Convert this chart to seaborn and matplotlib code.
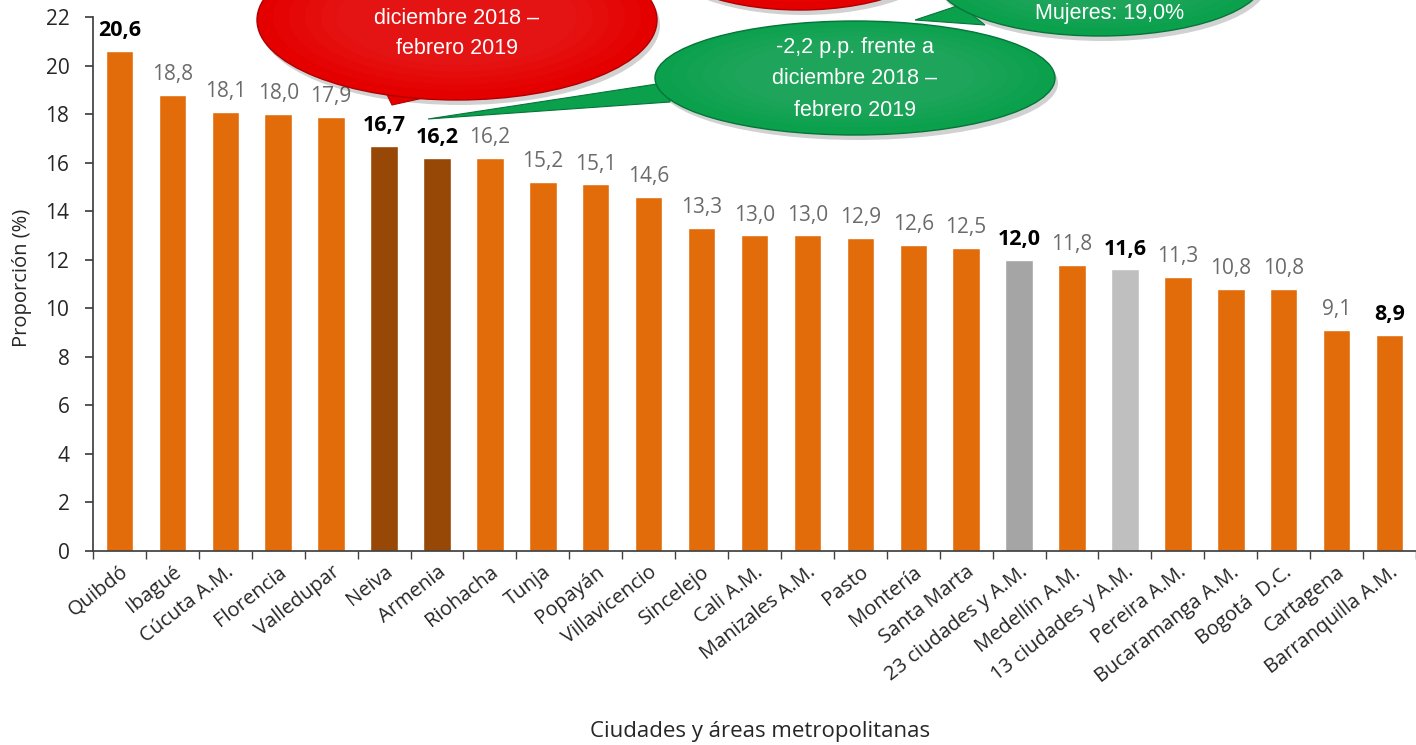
import numpy as np
import pandas as pd
import matplotlib
matplotlib.use('Agg')
import matplotlib.pyplot as plt
from matplotlib.patches import Ellipse, Polygon
import seaborn as sns

sns.set_theme(style='ticks')
plt.rcParams['font.family'] = ['Open Sans', 'DejaVu Sans']

# data
cities = ['Quibdó', 'Ibagué', 'Cúcuta A.M.', 'Florencia', 'Valledupar', 'Neiva', 'Armenia',
          'Riohacha', 'Tunja', 'Popayán', 'Villavicencio', 'Sincelejo', 'Cali A.M.',
          'Manizales A.M.', 'Pasto', 'Montería', 'Santa Marta', '23 ciudades y A.M.',
          'Medellín A.M.', '13 ciudades y A.M.', 'Pereira A.M.', 'Bucaramanga A.M.',
          'Bogotá  D.C.', 'Cartagena', 'Barranquilla A.M.']
values = [20.6, 18.8, 18.1, 18.0, 17.9, 16.7, 16.2, 16.2, 15.2, 15.1, 14.6, 13.3, 13.0,
          13.0, 12.9, 12.6, 12.5, 12.0, 11.8, 11.6, 11.3, 10.8, 10.8, 9.1, 8.9]
highlight = ['Quibdó', 'Neiva', 'Armenia', '23 ciudades y A.M.', '13 ciudades y A.M.',
             'Barranquilla A.M.']

ORANGE = '#E36C0A'
BROWN = '#974806'
special_colors = {'Neiva': BROWN, 'Armenia': BROWN,
                  '23 ciudades y A.M.': '#A5A5A5', '13 ciudades y A.M.': '#BFBFBF'}
colors = [special_colors.get(c, ORANGE) for c in cities]

df = pd.DataFrame({'ciudad': cities, 'valor': values})

W, H = 1416, 745
fig = plt.figure(figsize=(W / 100, H / 100), dpi=100)
ax = fig.add_axes([93 / W, 1 - 551 / H, 1 - 93 / W, (551 - 17) / H])

sns.barplot(data=df, x='ciudad', y='valor', hue='ciudad', palette=colors,
            legend=False, width=0.52, saturation=1, ax=ax)

ax.set_ylim(0, 22)
ax.set_yticks(np.arange(0, 23, 2))
ax.set_xlim(-0.5, 24.35)
sns.despine(ax=ax)
ax.spines['left'].set_color('#404040')
ax.spines['bottom'].set_color('#404040')
ax.tick_params(axis='y', labelsize=15, length=6, color='#404040', pad=11)
ax.set_xticks(range(len(cities)))
ax.set_xticks(np.arange(-0.5, len(cities), 1), minor=True)
ax.tick_params(axis='x', which='major', length=0, pad=8)
ax.tick_params(axis='x', which='minor', length=6, color='#404040')
ax.set_xticklabels(cities, rotation=38, ha='right', rotation_mode='anchor', fontsize=14.5)
ax.set_xlabel('')
ax.set_ylabel('')

for i, (c, v) in enumerate(zip(cities, values)):
    bold = c in highlight
    ax.annotate(f'{v:.1f}'.replace('.', ','), (i, v), xytext=(0, 7),
                textcoords='offset points', ha='center', va='bottom',
                fontsize=15.5 if bold else 15,
                fontweight='bold' if bold else 'normal',
                color='black' if bold else '#6B6B6B')

fig.text(760 / W, 1 - 732 / H, 'Ciudades y áreas metropolitanas', ha='center',
         va='center', fontsize=16)
fig.text(22 / W, 1 - 278 / H, 'Proporción (%)', ha='center', va='center',
         rotation=90, fontsize=14.5)


# callout bubbles (pixel coords from top-left of the figure)
def px(x, y):
    return (x / W, 1 - y / H)


def bubble(cx, cy, w, h, tail, face, edge):
    sh = Ellipse(px(cx + 3, cy + 5), w / W, h / H, transform=fig.transFigure,
                 facecolor='black', alpha=0.18, edgecolor='none', zorder=5)
    fig.add_artist(sh)
    if tail is not None:
        fig.add_artist(Polygon([px(*p) for p in tail], closed=True, transform=fig.transFigure,
                               facecolor=face, edgecolor=edge, lw=0.8, zorder=6))
    fig.add_artist(Ellipse(px(cx, cy), w / W, h / H, transform=fig.transFigure,
                           facecolor=face, edgecolor=edge, lw=1.0, zorder=7))
    # soft lighter centre, built from a few faint layers
    for s in [0.92, 0.84, 0.76, 0.68, 0.6]:
        fig.add_artist(Ellipse(px(cx, cy - 3), w * s / W, h * s / H, transform=fig.transFigure,
                               facecolor='white', alpha=0.018, edgecolor='none', zorder=7))


RED, RED_E = '#E50000', '#B00000'
GREEN, GREEN_E = '#0AA04C', '#06753A'

bubble(800, -55, 300, 130, None, RED, RED_E)
bubble(457, 20, 400, 160, [(380, 80), (392, 105), (450, 92)], RED, RED_E)
bubble(1100, -22, 330, 116, [(960, 5), (915, 20), (985, 25)], GREEN, GREEN_E)
bubble(855, 78, 400, 114, [(670, 82), (428, 119), (670, 102)], GREEN, GREEN_E)

cfont = ['Liberation Sans', 'DejaVu Sans']
fig.text(457 / W, 1 - 18 / H, 'diciembre 2018 –', ha='center', va='center',
         fontsize=15.5, color='white', family=cfont, zorder=8)
fig.text(457 / W, 1 - 48 / H, 'febrero 2019', ha='center', va='center',
         fontsize=15.5, color='white', family=cfont, zorder=8)
fig.text(1110 / W, 1 - 13 / H, 'Mujeres: 19,0%', ha='center', va='center',
         fontsize=15.5, color='white', family=cfont, zorder=8)
for k, line in enumerate(['-2,2 p.p. frente a', 'diciembre 2018 –', 'febrero 2019']):
    fig.text(855 / W, 1 - (47 + 31.5 * k) / H, line, ha='center', va='center',
             fontsize=15.5, color='white', family=cfont, zorder=8)

fig.savefig('out.png', dpi=100)
